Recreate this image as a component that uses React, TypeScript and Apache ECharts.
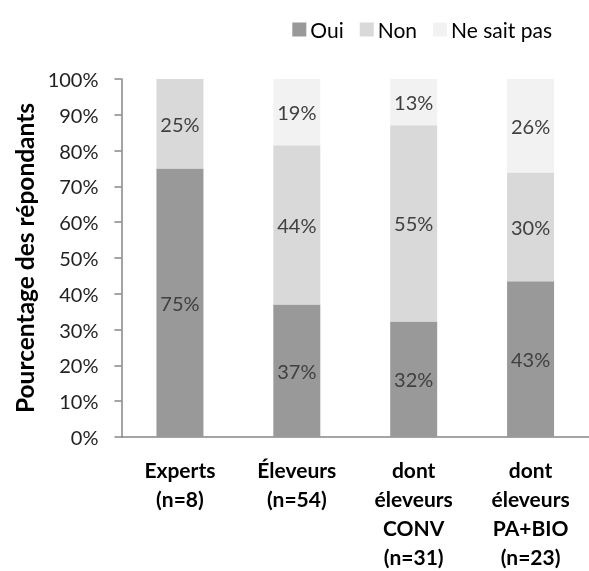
import React, { useEffect, useRef } from "react";
import * as echarts from "echarts";

const categories = [
  "Experts\n(n=8)",
  "Éleveurs\n(n=54)",
  "dont\néleveurs\nCONV\n(n=31)",
  "dont\néleveurs\nPA+BIO\n(n=23)",
];
const oui = [75, 37.04, 32.26, 43.48];
const non = [25, 44.44, 54.84, 30.43];
const nsp = [0, 18.52, 12.9, 26.09];
const seriesNames = ["Oui", "Non", "Ne sait pas"];
const colors = ["#999999", "#d9d9d9", "#f2f2f2"];
const yTicks = { min: 0, max: 100, interval: 10 };

const FONT = "Lato, 'Noto Sans', sans-serif";

export default function App() {
  const ref = useRef<HTMLDivElement>(null);
  useEffect(() => {
    if (!ref.current) return;
    const chart = echarts.init(ref.current, undefined, { renderer: "svg" });
    const datas = [oui, non, nsp];
    chart.setOption({
      animation: false,
      textStyle: { fontFamily: FONT },
      legend: {
        right: 32,
        top: 14,
        itemWidth: 14,
        itemHeight: 14,
        itemGap: 16,
        icon: "rect",
        textStyle: { fontFamily: FONT, fontSize: 21, color: "#000", padding: [0, 0, 0, -1] },
        data: seriesNames,
      },
      grid: { left: 121.5, top: 79, width: 470, height: 362, containLabel: false },
      xAxis: {
        type: "category",
        data: categories,
        axisLine: { lineStyle: { color: "#868686", width: 1.5 } },
        axisTick: { show: false },
        axisLabel: {
          interval: 0,
          margin: 18,
          fontFamily: FONT,
          fontSize: 21,
          fontWeight: "bold",
          color: "#000",
          lineHeight: 29,
        },
      },
      yAxis: {
        type: "value",
        min: yTicks.min,
        max: yTicks.max,
        interval: yTicks.interval,
        name: "Pourcentage des répondants",
        nameLocation: "middle",
        nameGap: 84,
        nameTextStyle: { fontFamily: FONT, fontSize: 24.5, fontWeight: "bold", color: "#000" },
        axisLine: { show: true, lineStyle: { color: "#868686", width: 1.5 } },
        axisTick: { show: true, length: 7, lineStyle: { color: "#868686", width: 1.5 } },
        splitLine: { show: false },
        axisLabel: {
          formatter: "{value}%",
          margin: 23,
          fontFamily: FONT,
          fontSize: 20,
          color: "#222",
        },
      },
      series: datas.map((d, i) => ({
        name: seriesNames[i],
        type: "bar",
        stack: "total",
        data: d,
        barWidth: 47,
        itemStyle: { color: colors[i] },
        label: {
          show: true,
          position: "inside",
          fontFamily: FONT,
          fontSize: 20,
          color: "#404040",
          formatter: (p: any) => (p.value > 0 ? Math.round(p.value) + "%" : ""),
        },
      })),
    });
    return () => chart.dispose();
  }, []);
  return (
    <div
      ref={ref}
      style={{ position: "fixed", left: 0, top: 0, width: 589, height: 571 }}
    />
  );
}
